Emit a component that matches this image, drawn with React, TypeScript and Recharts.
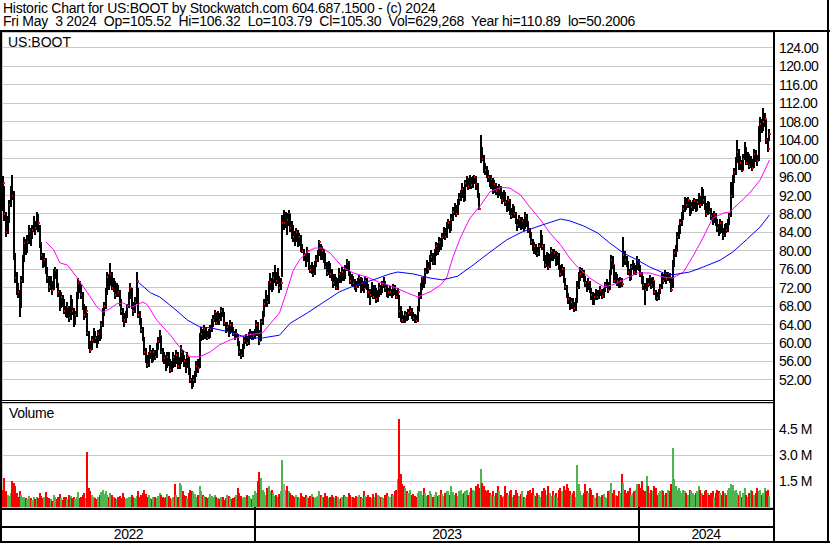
import React from "react";
import { ComposedChart, Bar, Line, XAxis, YAxis, CartesianGrid } from "recharts";

// daily bars, 9 May 2022 .. 3 May 2024 (x = trading day index)
const closes = [
  94.7, 88, 84, 86.5, 90, 92.5, 92, 79, 74, 72,
  71, 68, 73.5, 78, 81.7, 80, 82, 84.3, 83, 84.5,
  86.3, 85, 87.1, 86, 81.3, 79, 77, 78, 76, 74,
  72.2, 73, 71.5, 75, 75.8, 72.6, 71, 67.8, 70, 69,
  67, 66, 67.8, 65.4, 69.3, 67, 64.5, 66, 70, 73,
  72, 70.5, 68, 66, 67, 62.2, 59.6, 58.5, 60.7, 62.2,
  61, 60, 62, 61.5, 64, 66.5, 68, 71, 74.3, 72.6,
  75, 72, 73, 70.4, 72, 71, 68.7, 67, 65.6, 65,
  66, 67.8, 70, 72, 68, 67, 69, 73.5, 66, 65,
  62.8, 61, 58, 56.8, 55.2, 57, 58, 56.5, 58, 57,
  59, 60.5, 61.5, 58, 57, 56.8, 55, 57, 56, 54.2,
  55, 57, 56, 57.5, 55, 56, 58, 57, 56, 55,
  57, 54, 52, 51, 52, 53, 55, 54.5, 61, 62,
  61.3, 63, 62, 61, 61.5, 63, 64, 65, 66.5, 64.3,
  66, 65, 67, 66.5, 64.3, 62.8, 63.5, 62.2, 64, 63,
  62, 61.5, 62, 60, 58, 57.5, 59, 60.5, 61, 60,
  61.5, 62, 61.3, 61.5, 62, 64, 62.2, 60.5, 64.5, 66,
  68.5, 70, 69, 72.2, 73.2, 72, 74, 75, 73.5, 74,
  72, 73, 86, 86, 87.5, 86.7, 88, 85, 84, 83,
  82.8, 84, 82, 83, 80.8, 80, 79, 78.5, 80, 76.5,
  75.8, 76.5, 75, 77, 78, 79.5, 82, 78.7, 80, 79,
  76.5, 75.2, 77, 75, 74.3, 73, 74, 72, 73.5, 75,
  74, 75.5, 74.3, 76, 77.5, 75, 73.5, 74, 73, 72.5,
  72.2, 73, 74, 71.5, 73, 72, 73.5, 72, 71, 70.4,
  72, 70, 71.5, 69.5, 70.4, 72, 71, 72.5, 73, 72,
  70.4, 71, 71, 70.5, 72, 71, 70, 71, 67, 66.5,
  65, 64.8, 66, 65.5, 66.5, 67, 66, 65.5, 65, 64.8,
  67, 70, 72.2, 74, 73, 75.5, 77, 76, 78, 78.7,
  77.5, 79.5, 81, 80, 82, 81, 83, 84.5, 83, 85.5,
  86, 84.5, 87, 88.5, 89.5, 88, 90.4, 91.5, 92, 93.5,
  91, 94.7, 95, 94, 95.5, 94.2, 95.5, 96, 94.5, 92,
  89, 102.3, 100, 98, 97.5, 97, 96, 94.5, 95.5, 93,
  94.5, 93, 92.5, 93.5, 92, 91, 92.5, 90.5, 89, 91,
  88.5, 87.5, 89.5, 88, 86.5, 85.5, 87, 85, 86.5, 85,
  87.5, 86, 84.5, 83.5, 82, 80.5, 81, 80, 79.5, 81,
  83, 81, 78.5, 77, 79, 76.5, 78.5, 80, 78.7, 79.5,
  77.5, 79, 76.5, 75, 76, 73.5, 72.2, 70, 69.5, 68,
  69, 68.5, 67.5, 69, 72, 74.5, 75, 75.5, 74, 73,
  72, 73.2, 71.5, 70.5, 68.5, 70, 71, 70, 70.8, 71.5,
  70.2, 71.5, 72.5, 73, 71.5, 75, 78, 77, 73.5, 74.5,
  73.5, 72.5, 73.5, 72.8, 79, 78, 77.5, 75.5, 74, 76.5,
  77, 75.5, 76, 78, 76.5, 75, 74, 72.5, 71.5, 73,
  72.8, 74, 72.5, 73.5, 71, 70, 69.8, 71, 72, 74.5,
  73.5, 75, 73.8, 75, 74, 71.5, 77, 79.5, 80, 83,
  84.5, 86, 87.5, 89, 90.5, 90, 91, 88.5, 89.5, 90,
  90.8, 89, 90.5, 91.5, 90, 92.5, 91, 89.5, 88, 90,
  88.5, 87.5, 86.5, 88, 86.5, 85, 84, 86, 84.5, 83.5,
  85, 84.5, 86, 87.5, 92, 95.5, 97, 99.5, 101.5, 98,
  99, 97.5, 100, 102, 99, 100.5, 98.5, 99.5, 98, 101,
  100, 99.5, 104, 107.5, 106.5, 108, 108.5, 104, 102, 105.3,
];

const highs = [
  96.2, 94, 88.5, 87.5, 91, 94, 96.5, 93, 79.5, 75.5,
  73, 71.5, 74.5, 79, 83, 82.5, 83.5, 85.6, 85, 85.5,
  87.5, 86.5, 88.4, 88, 85.5, 82, 79.5, 79.5, 78.5, 76.5,
  74.5, 74.5, 73.5, 76, 76.5, 76, 73, 71.5, 71, 70.5,
  69.5, 68, 69, 68, 70.5, 69.5, 67.5, 67, 71, 74,
  73.5, 72.5, 71, 68.5, 68, 66.5, 62.5, 60.5, 61.5, 63.3,
  62.5, 61.5, 62.8, 63, 64.8, 67.6, 69, 72, 75.5, 75,
  77.4, 75.5, 74, 73.5, 73, 72.5, 71.5, 69.5, 67.5, 66.5,
  67, 68.5, 71, 73, 72, 69, 70, 75.4, 72, 67,
  65.5, 63.5, 61.3, 59, 57.5, 58, 59.5, 58.5, 59, 58.5,
  60, 61.3, 62.8, 61.5, 59, 58, 57.5, 58, 58, 56.5,
  56, 58, 57.5, 58.5, 58, 57, 59.6, 58.5, 57.5, 56.5,
  58, 57, 54.5, 52.5, 53, 54, 56, 56.5, 62.2, 63.5,
  63, 64, 63.5, 62.5, 63, 64, 65.3, 66, 67.2, 66.5,
  67, 66.5, 67.8, 67.5, 66.8, 64.5, 64.5, 64, 65, 64.5,
  63.5, 62.5, 63, 62, 60.5, 58.8, 59.8, 61.2, 62, 61.5,
  62.3, 63, 62.5, 62.5, 63, 65, 64.5, 62.8, 65.3, 67,
  69.5, 71.5, 70.5, 73.5, 75.2, 74, 75.5, 77, 75.5, 76.2,
  74.5, 74, 87.8, 88.9, 88.5, 88.2, 88.9, 88, 86.5, 85.5,
  84.3, 85, 84.5, 83.9, 83.5, 81.5, 80.5, 79.5, 80.8, 79.5,
  77, 77.5, 77, 77.8, 79, 80.2, 82.4, 81.5, 81, 80.5,
  79.5, 77.5, 77.8, 77.3, 76, 75, 75, 74.3, 74.2, 76.2,
  75.5, 76.5, 76, 77, 78.2, 77.8, 75.5, 75, 74.5, 73.8,
  73.5, 74, 74.8, 74.3, 74, 73.5, 74.5, 74, 72.8, 71.8,
  73.2, 72.5, 72.5, 72, 71.5, 73, 72.5, 73.5, 74.3, 73.5,
  72.5, 72, 72.3, 71.8, 72.8, 72.5, 71.5, 72, 70.5, 68,
  67, 66, 67, 66.8, 67.3, 68, 67.5, 66.8, 66.3, 66,
  68, 71, 73, 74.3, 74.5, 76.3, 78, 77.5, 79, 80.2,
  79.5, 80.5, 82, 81.8, 83, 82.8, 83.8, 85.2, 85, 86.2,
  87, 86.5, 88, 89.5, 90.4, 90, 91.2, 92.5, 93.2, 94.7,
  93.8, 95.3, 96.2, 95.8, 96.5, 96, 96.3, 96.5, 96.2, 94.8,
  92.5, 105.1, 102.5, 100.8, 99, 98.5, 97.5, 96.5, 96.5, 95.8,
  95.3, 94.8, 94, 94.5, 94, 92.8, 93.2, 92.8, 91, 91.8,
  91.3, 89.2, 90.2, 89.8, 88.5, 87, 87.8, 87.3, 87.3, 87,
  88.5, 88, 86.5, 85, 84, 82.5, 82, 81.5, 80.8, 81.8,
  84.5, 83.5, 81.5, 79, 79.8, 79.5, 79.3, 80.8, 80.5, 80.3,
  80, 79.8, 79.5, 77, 77.2, 76.5, 74, 72.5, 70.8, 70,
  69.8, 69.8, 69, 69.8, 73.5, 75.5, 76.5, 76.2, 75.8, 74.5,
  73.5, 74.2, 73.5, 72, 71, 70.8, 71.8, 71.5, 71.5, 72.3,
  71.8, 72, 73.2, 73.8, 73.2, 75.8, 79.2, 78.8, 77, 75.5,
  75, 74, 74.3, 74, 83, 80, 78.8, 77.8, 76, 77.2,
  78, 77.3, 77, 78.8, 78.2, 77, 75.5, 74.5, 73, 74,
  74, 74.8, 74.2, 74.3, 73.5, 71.5, 71, 71.8, 72.8, 75.2,
  75, 75.8, 75.5, 75.5, 75.2, 74.3, 78, 80.5, 81.2, 84,
  85.5, 87, 88.5, 90, 91.7, 91.5, 91.7, 91, 90.5, 91,
  91.5, 91.2, 91.2, 92.5, 92, 93.9, 93.5, 91.8, 90.3, 90.8,
  90.5, 89.2, 88.3, 88.6, 88.3, 87, 85.8, 86.8, 86.5, 85,
  85.8, 86, 86.8, 88.2, 95, 96.5, 98, 100.4, 104, 102,
  100.5, 99.8, 101, 103.5, 102.5, 101.5, 101, 100.5, 100, 102,
  101.8, 100.8, 107, 109, 108.5, 110.89, 109.8, 108.3, 104.5, 106.32,
];

const lows = [
  88.5, 86.5, 83, 83.5, 86, 89.5, 91, 78, 73, 70.5,
  69.8, 65.6, 67.5, 73, 77.5, 79, 79.5, 81.5, 81, 82.5,
  84, 83.5, 84.5, 84, 80.5, 78, 76.3, 76.5, 75, 73,
  71, 71.5, 70.5, 71.5, 74, 71.8, 70, 67, 67.5, 68,
  66.2, 65.6, 65.5, 64.5, 65, 66, 63.3, 64, 65.5, 69.5,
  71, 69.5, 67, 65, 65.5, 61.5, 58.5, 58, 58.5, 60,
  60, 59, 59.8, 60.5, 61, 63.5, 66, 67.5, 70.5, 71.5,
  72.5, 71.5, 71, 69.5, 70, 70, 68, 66, 64.5, 63.5,
  64.5, 65.5, 67.5, 69.5, 67.5, 66, 66.5, 68.5, 65.5, 64,
  62.2, 60.5, 57.5, 55.8, 54.6, 54.8, 56.5, 55.7, 56, 56.3,
  56.8, 58.5, 60, 57.5, 56, 55.5, 54, 54.5, 55, 53.5,
  53.6, 54.5, 55, 55.5, 54.3, 54.5, 55.5, 56, 55, 53.5,
  54.5, 53, 51.3, 50.2, 50.5, 51.5, 52.5, 53.5, 54.5, 60.5,
  60.6, 61, 61, 60.6, 60.8, 61.2, 62.5, 63.5, 64.5, 63.8,
  64, 64, 64.8, 65.5, 63.8, 62.2, 62.3, 61.5, 62, 62.3,
  61.5, 60.6, 61, 59.3, 57.3, 56.7, 57, 58.5, 59.8, 59.3,
  59.5, 60.8, 60.6, 60.5, 60.8, 61.5, 61.5, 59.6, 60.5, 64,
  65.5, 67.8, 68, 68.5, 71.5, 70.9, 71.5, 73, 72.5, 72.8,
  70.9, 71.5, 74.3, 84.5, 85, 83.5, 85.5, 84, 82.5, 81.9,
  81, 82, 80.8, 81, 79.8, 79.5, 77.8, 76.5, 77.5, 75.8,
  75.2, 75, 74.5, 74.8, 76.5, 77.5, 79, 78, 78, 77.5,
  76, 74.5, 74.8, 74, 73.5, 72, 72.5, 71.5, 71.6, 73,
  73.2, 73.5, 73.5, 74, 75.5, 74.5, 72.8, 72.5, 72.2, 71.5,
  71.2, 71.8, 72.5, 70.9, 71.2, 71, 71.8, 71.3, 69.8, 68.3,
  70, 69.5, 69.5, 68.8, 69, 70, 70.3, 70.8, 72, 71.2,
  69.8, 69.8, 70.2, 69.8, 70.2, 70.3, 69.5, 69.6, 65.5, 64.5,
  64.3, 64.3, 64.5, 64.8, 65, 65.8, 65.2, 64.8, 64.3, 64.3,
  64.5, 66.8, 69.5, 71.5, 72, 72.8, 75, 75.2, 75.8, 77.5,
  76.8, 77, 79, 79.2, 79.8, 80.2, 80.8, 82.5, 82.3, 82.8,
  84.8, 83.8, 84.3, 86.5, 87.8, 87.3, 87.8, 89.8, 90.8, 91.5,
  90.5, 90.8, 93.8, 93.2, 93.5, 93.5, 93.8, 94.5, 93.2, 91.5,
  88.9, 99, 99.5, 97, 96.3, 96, 94.8, 93.8, 93.5, 92.3,
  92.5, 92.2, 91.5, 92, 91.2, 90.3, 90.5, 89.8, 88.3, 88.5,
  87.8, 86.8, 87.2, 87.2, 85.8, 84.5, 85, 84.5, 84.6, 84.3,
  84.8, 85.2, 83.8, 82.8, 81.2, 79.8, 79.5, 79.2, 78.6, 79,
  80.5, 80.2, 77.8, 76.2, 76.5, 75.8, 76.2, 77.8, 78, 78.2,
  76.8, 77, 75.8, 74.3, 74.5, 73, 71.5, 69.6, 68.5, 67.2,
  67.5, 67.5, 66.8, 67, 68.8, 71.8, 73.5, 74, 73.2, 72.2,
  71.2, 71.5, 70.8, 69.5, 68.2, 68.3, 69.5, 69.3, 69.5, 70.2,
  69.6, 69.8, 71, 71.8, 70.9, 71.5, 74.8, 76, 73, 72.8,
  72.5, 71.8, 72, 72, 76.5, 77, 76.5, 74.8, 73.5, 73.8,
  75.8, 74.6, 74.8, 75.8, 75.5, 74.3, 72.8, 71.5, 68.3, 71.2,
  72, 72.5, 71.8, 72, 70.5, 69.3, 69, 69.5, 70.6, 71.8,
  72.8, 73.2, 73, 73.5, 73, 71, 72, 76.5, 78.5, 79.8,
  82.5, 83.8, 85.5, 86.8, 88.5, 89, 89.3, 87.5, 87.8, 88.6,
  89.2, 88.3, 88.5, 89.8, 89.3, 89.8, 90.2, 88.8, 87.3, 87.8,
  87.8, 86.5, 85.8, 86, 85.5, 84.2, 83.2, 83.5, 83.8, 82.4,
  83, 83.8, 84, 85.5, 87.3, 91.5, 94.8, 96.5, 99, 97.5,
  97.5, 97.2, 97.5, 99.5, 98.5, 98.6, 97.8, 97.8, 97.5, 97.8,
  99.2, 98.5, 99.5, 103.5, 105.5, 106, 106.8, 103.2, 101.4, 103.79,
];

// shares traded, thousands
const volumesK = [
  1000, 1700, 950, 700, 650, 800, 1500, 1400, 1200, 800,
  600, 900, 700, 550, 600, 500, 450, 650, 500, 400,
  550, 450, 600, 500, 800, 650, 500, 550, 850, 600,
  500, 450, 350, 700, 550, 450, 600, 750, 500, 400,
  550, 600, 450, 700, 650, 500, 600, 450, 550, 850,
  500, 600, 700, 800, 500, 3200, 1100, 900, 700, 600,
  500, 450, 550, 700, 850, 1000, 750, 950, 700, 600,
  800, 700, 550, 500, 450, 600, 650, 500, 800, 550,
  450, 500, 600, 550, 700, 600, 500, 650, 900, 550,
  700, 800, 1000, 750, 600, 700, 500, 450, 550, 600,
  500, 650, 800, 700, 550, 500, 600, 750, 650, 500,
  450, 550, 1300, 700, 600, 1400, 1250, 900, 700, 650,
  500, 800, 1000, 900, 850, 750, 600, 700, 1200, 900,
  700, 650, 550, 500, 600, 750, 650, 550, 700, 600,
  500, 450, 550, 600, 400, 500, 700, 650, 550, 450,
  500, 600, 700, 1100, 800, 650, 500, 550, 600, 700,
  650, 500, 450, 700, 900, 800, 1500, 2000, 1700, 1000,
  850, 700, 1100, 1200, 900, 1000, 800, 650, 700, 600,
  750, 900, 2700, 1300, 1000, 1200, 900, 800, 700, 650,
  600, 700, 550, 500, 800, 650, 600, 700, 550, 500,
  650, 750, 600, 500, 550, 650, 900, 700, 600, 550,
  800, 650, 500, 600, 700, 550, 500, 650, 600, 450,
  500, 600, 700, 650, 550, 800, 700, 600, 550, 500,
  650, 600, 700, 550, 500, 900, 650, 550, 700, 600,
  500, 750, 600, 800, 700, 650, 550, 600, 500, 700,
  800, 650, 600, 750, 700, 900, 1000, 1600, 5100, 1900,
  1300, 1200, 1100, 900, 800, 1000, 700, 750, 650, 600,
  800, 950, 900, 700, 1100, 800, 650, 700, 900, 750,
  600, 700, 850, 650, 700, 1000, 750, 650, 800, 950,
  900, 700, 1200, 850, 700, 800, 650, 900, 1000, 750,
  800, 900, 1000, 700, 850, 1100, 1000, 900, 1200, 1300,
  1100, 2200, 1400, 1200, 1000, 900, 1000, 800, 700, 900,
  650, 800, 1200, 900, 700, 600, 650, 1200, 800, 700,
  900, 1000, 600, 700, 1000, 800, 650, 750, 900, 600,
  500, 700, 900, 1000, 800, 1100, 700, 650, 800, 700,
  600, 900, 1100, 1000, 700, 1200, 800, 650, 900, 700,
  800, 600, 1000, 1100, 900, 1200, 1000, 1300, 1100, 900,
  700, 800, 900, 600, 2400, 1300, 900, 700, 800, 1300,
  900, 800, 1100, 1000, 700, 600, 500, 800, 650, 600,
  700, 750, 600, 500, 900, 1000, 1400, 800, 1000, 700,
  650, 900, 800, 1900, 1400, 1000, 800, 900, 1100, 700,
  800, 900, 1000, 1300, 1300, 1100, 1500, 1000, 900, 1800,
  1200, 800, 1000, 900, 1200, 1100, 700, 800, 900, 1000,
  900, 700, 800, 1000, 900, 1300, 3400, 1600, 1200, 1000,
  1100, 900, 800, 1000, 900, 800, 700, 1000, 900, 800,
  700, 800, 900, 1200, 1000, 800, 700, 900, 1000, 800,
  700, 800, 900, 600, 800, 1000, 900, 800, 700, 900,
  800, 700, 1000, 1100, 1300, 1250, 900, 1000, 800, 700,
  900, 600, 800, 1100, 700, 600, 800, 1000, 900, 700,
  800, 1100, 900, 1000, 700, 800, 1100, 900, 1000, 630,
];

// moving averages: [day index, value]
const fastAvg: [number, number][] = [
  [28, 81.9], [33, 80.2], [37, 77.4], [42, 76.9], [48, 74.3], [55, 70.9], [61, 67.9], [65, 66.7],
  [70, 67.5], [74, 68.5], [78, 68.7], [84, 67.8], [91, 68.9], [94, 68.3], [100, 65.0], [109, 61.7],
  [115, 59.1], [122, 57.0], [128, 57.0], [135, 58.1], [141, 59.6], [148, 60.7], [158, 61.7], [169, 62.2],
  [176, 65.0], [180, 66.5], [185, 71.5], [189, 75.8], [193, 78.0], [198, 79.7], [203, 80.6], [208, 80.6],
  [213, 79.5], [217, 78.0], [221, 76.5], [228, 75.2], [237, 74.3], [245, 73.2], [254, 72.2], [263, 70.9],
  [270, 70.0], [278, 71.1], [285, 72.6], [289, 74.3], [293, 78.7], [298, 83.0], [304, 87.1], [311, 89.9],
  [317, 92.8], [324, 93.8], [330, 93.6], [337, 92.1], [343, 89.5], [350, 86.7], [356, 83.9], [363, 81.3],
  [369, 78.4], [374, 76.5], [382, 74.1], [391, 72.2], [397, 72.6], [404, 73.7], [413, 75.2], [421, 75.2],
  [430, 74.3], [436, 74.1], [443, 75.4], [449, 78.7], [456, 83.0], [462, 87.1], [469, 88.2], [473, 88.4],
  [480, 90.6], [486, 92.5], [493, 95.4], [499, 99.7],
];
const slowAvg: [number, number][] = [
  [88, 73.2], [96, 70.9], [102, 70.0], [111, 67.6], [120, 65.0], [128, 63.5], [135, 63.3], [150, 62.2],
  [159, 61.1], [169, 61.1], [180, 61.7], [187, 64.3], [198, 66.5], [208, 68.7], [219, 71.1], [230, 72.6],
  [241, 73.7], [252, 75.0], [257, 75.4], [267, 75.0], [278, 74.1], [286, 73.7], [296, 74.5], [306, 76.9],
  [317, 79.7], [328, 82.4], [338, 84.1], [351, 85.6], [363, 86.9], [369, 86.5], [378, 85.4], [387, 83.9],
  [395, 81.7], [404, 79.5], [413, 78.0], [421, 76.5], [430, 75.2], [436, 74.8], [447, 75.4], [456, 76.5],
  [467, 78.0], [475, 79.7], [484, 82.4], [493, 85.2], [499, 87.8],
];

const monthStarts = [16, 37, 57, 80, 101, 122, 143, 164, 184, 203, 226, 245, 267, 288, 308, 331, 351, 373, 394, 414, 435, 455, 475, 497];
const yearStarts = [164, 414];
const yearLabels = ["2022", "2023", "2024"];
const priceTicks = [52, 56, 60, 64, 68, 72, 76, 80, 84, 88, 92, 96, 100, 104, 108, 112, 116, 120, 124];
const volumeTicks = [1500000, 3000000, 4500000];

const X_DOMAIN: [number, number] = [-0.65, 501.3];
const FONT = '"Liberation Sans", Arial, Helvetica, sans-serif';

const rows = closes.map((c, i) => {
  const prev = i > 0 ? closes[i - 1] : c + 1;
  return {
    i,
    close: c,
    hl: [lows[i], highs[i]],
    vol: (volumesK[i] ?? 0) * 1000,
    dir: c > prev ? 1 : c < prev ? -1 : 0,
  } as any;
});
fastAvg.forEach(([i, v]) => { if (rows[i]) rows[i].fast = v; });
slowAvg.forEach(([i, v]) => { if (rows[i]) rows[i].slow = v; });

const bounds = [X_DOMAIN[0], ...yearStarts, X_DOMAIN[1]];
const yearMids = yearLabels.map((_, k) => (bounds[k] + bounds[k + 1]) / 2);
const yearTicks = [...yearMids, ...yearStarts].sort((a, b) => a - b);

const PriceBar = (p: any) => {
  const { x, y, width, height, payload } = p;
  if (!payload || y == null || isNaN(y)) return <g />;
  const top = Math.min(y, y + height);
  const h = Math.abs(height);
  const [lo, hi] = payload.hl;
  const cx = Math.round(x + width / 2);
  const cy = top + (hi === lo ? 0 : ((hi - payload.close) / (hi - lo)) * h);
  return (
    <g>
      <rect x={cx - 1} y={Math.round(top)} width={2} height={Math.max(Math.round(h), 1)} fill="#000" />
      <rect x={cx} y={Math.round(cy) - 1} width={2} height={2} fill="#ff0000" />
    </g>
  );
};

const VolBar = (p: any) => {
  const { x, y, width, height, payload } = p;
  if (!payload || y == null || isNaN(y)) return <g />;
  const cx = Math.round(x + width / 2);
  const fill = payload.dir > 0 ? "#4fb54f" : payload.dir < 0 ? "#ff0000" : "#a9a9a9";
  return <rect x={cx - 1} y={Math.round(y)} width={2} height={Math.max(Math.round(height), 0)} fill={fill} />;
};

const PriceTick = (p: any) => (
  <text x={p.x} y={p.y} dy={5} fontSize={14} fontFamily={FONT} fill="#000" letterSpacing={-0.6} textAnchor="start">
    {Number(p.payload.value).toFixed(2)}
  </text>
);

const VolTick = (p: any) => (
  <text x={p.x} y={p.y} dy={5} fontSize={14} fontFamily={FONT} fill="#000" letterSpacing={-0.4} textAnchor="start">
    {`${(p.payload.value / 1000000).toFixed(1)} M`}
  </text>
);

const YearTick = (p: any) => {
  const v = p.payload.value;
  const k = yearStarts.indexOf(v);
  if (k >= 0) {
    return <rect x={Math.round(p.x) - 1} y={p.y} width={2} height={36} fill="#000" />;
  }
  const idx = yearMids.indexOf(v);
  return (
    <text x={p.x} y={p.y + 32} fontSize={14} fontFamily={FONT} fill="#000" letterSpacing={-0.5} textAnchor="middle">
      {yearLabels[idx] ?? ""}
    </text>
  );
};

const line = (left: number, top: number, width: number, height: number) => (
  <div style={{ position: "absolute", left, top, width, height, background: "#000" }} />
);

const headerText =
  "Historic Chart for US:BOOT by Stockwatch.com 604.687.1500 - (c) 2024\n" +
  "Fri May  3 2024  Op=105.52  Hi=106.32  Lo=103.79  Cl=105.30  Vol=629,268  Year hi=110.89  lo=50.2006";

export default function App() {
  return (
    <div style={{ position: "relative", width: 830, height: 543, background: "#fff", fontFamily: FONT, overflow: "hidden" }}>
      <style>{"body{margin:0} .recharts-cartesian-grid line{shape-rendering:crispEdges}"}</style>
      <div style={{ position: "absolute", left: 3, top: 1.5, fontSize: 14, lineHeight: "13.4px", letterSpacing: -0.25, whiteSpace: "pre" }}>
        {headerText}
      </div>

      <div style={{ position: "absolute", left: 0, top: 32 }}>
        <ComposedChart width={830} height={368} data={rows} margin={{ top: 0, right: 2, bottom: 0, left: 2 }}>
          <CartesianGrid stroke="#c8c8c8" strokeWidth={1} />
          <XAxis type="number" dataKey="i" domain={X_DOMAIN} ticks={monthStarts} allowDataOverflow height={0}
            tick={false} axisLine={false} tickLine={false} interval={0} />
          <YAxis orientation="right" width={55} domain={[47.64, 127.47]} allowDataOverflow ticks={priceTicks}
            tick={<PriceTick />} axisLine={false} tickLine={false} tickSize={0} tickMargin={6} interval={0} />
          <Bar dataKey="hl" shape={<PriceBar />} barSize={2} isAnimationActive={false} />
          <Line dataKey="fast" stroke="#ff00ff" strokeWidth={1} dot={false} connectNulls isAnimationActive={false} />
          <Line dataKey="slow" stroke="#0000ff" strokeWidth={1} dot={false} connectNulls isAnimationActive={false} />
        </ComposedChart>
      </div>

      <div style={{ position: "absolute", left: 0, top: 403 }}>
        <ComposedChart width={830} height={140} data={rows} margin={{ top: 0, right: 2, bottom: 0, left: 2 }}>
          <CartesianGrid xAxisId="m" stroke="#c8c8c8" strokeWidth={1} />
          <XAxis xAxisId="m" type="number" dataKey="i" domain={X_DOMAIN} ticks={monthStarts} allowDataOverflow height={0}
            tick={false} axisLine={false} tickLine={false} interval={0} />
          <XAxis xAxisId="y" type="number" dataKey="i" domain={X_DOMAIN} ticks={yearTicks} allowDataOverflow height={36}
            tick={<YearTick />} axisLine={false} tickLine={false} tickSize={0} tickMargin={0} interval={0} />
          <YAxis orientation="right" width={55} domain={[0, 6000000]} allowDataOverflow ticks={volumeTicks}
            tick={<VolTick />} axisLine={false} tickLine={false} tickSize={0} tickMargin={6} interval={0} />
          <Bar xAxisId="m" dataKey="vol" shape={<VolBar />} barSize={2} isAnimationActive={false} />
        </ComposedChart>
      </div>

      <div style={{ position: "absolute", left: 8, top: 35, fontSize: 14, lineHeight: "14px" }}>US:BOOT</div>
      <div style={{ position: "absolute", left: 9, top: 406, fontSize: 14, lineHeight: "14px", letterSpacing: -0.3 }}>Volume</div>

      {line(0, 30, 830, 2)}
      {line(0, 30, 2, 513)}
      {line(773, 30, 2, 513)}
      {line(827, 0, 2, 543)}
      {line(0, 400, 775, 1)}
      {line(0, 402, 775, 1)}
      {line(0, 508, 775, 2)}
      {line(0, 526, 775, 2)}
      {line(0, 541, 830, 2)}
    </div>
  );
}
